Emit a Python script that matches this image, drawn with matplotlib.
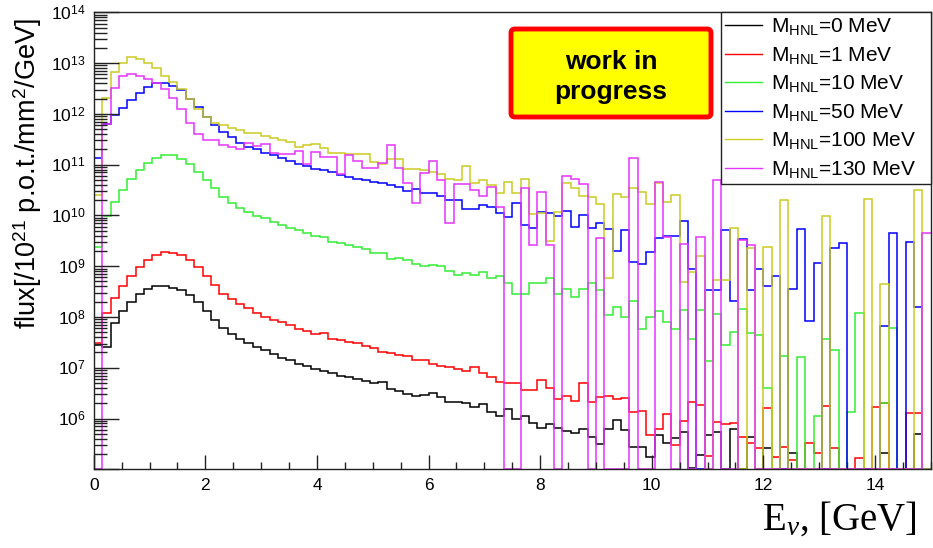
import numpy as np
import matplotlib.pyplot as plt
from matplotlib.lines import Line2D
from matplotlib.patches import FancyBboxPatch

plt.rcParams['font.family'] = ['Liberation Sans', 'DejaVu Sans']
plt.rcParams['mathtext.fontset'] = 'custom'
plt.rcParams['mathtext.rm'] = 'Liberation Sans'
plt.rcParams['mathtext.it'] = 'Liberation Serif:italic'
plt.rcParams['mathtext.bf'] = 'Liberation Sans:bold'

# 100 bins of 0.15 GeV between 0 and 15 GeV
e_lo, e_hi, n_bins = 0.0, 15.0, 100

# log10(flux) per bin; 0 means an empty bin
lg_m0 = [7.45, 7.41, 7.89, 8.12, 8.30, 8.45, 8.55, 8.61, 8.61, 8.58, 8.54, 8.44, 8.30, 8.12, 7.95, 7.79, 7.67, 7.56, 7.48, 7.40,
         7.35, 7.27, 7.20, 7.15, 7.08, 7.03, 6.98, 6.94, 6.89, 6.83, 6.81, 6.77, 6.74, 6.69, 6.72, 6.59, 6.54, 6.49, 6.44, 6.47,
         6.51, 6.43, 6.33, 6.33, 6.30, 6.22, 6.28, 6.13, 6.05, 6.18, 6.00, 6.05, 5.91, 5.82, 5.89, 5.82, 5.76, 5.72, 5.80, 5.64,
         5.49, 5.80, 5.98, 5.77, 5.44, 5.44, 5.24, 5.68, 5.51, 5.61, 5.74, 5.03, 5.28, 5.68, 5.74, 0, 5.80, 0, 5.64, 0,
         5.41, 0, 0, 5.32, 0, 0, 0, 0, 0, 0, 0, 0, 0, 0, 5.33, 0, 0, 0, 5.70, 0]
lg_m1 = [7.48, 8.08, 8.38, 8.61, 8.81, 8.99, 9.13, 9.23, 9.27, 9.26, 9.22, 9.12, 8.98, 8.80, 8.63, 8.46, 8.35, 8.25, 8.17, 8.07,
         8.00, 7.95, 7.90, 7.84, 7.77, 7.72, 7.67, 7.69, 7.57, 7.54, 7.51, 7.48, 7.42, 7.39, 7.31, 7.29, 7.26, 7.24, 7.16, 7.16,
         7.07, 7.04, 7.02, 6.98, 6.94, 7.02, 6.90, 6.81, 6.72, 6.69, 6.70, 6.57, 6.56, 6.76, 6.61, 6.39, 6.44, 6.34, 6.69, 6.33,
         6.43, 6.45, 6.38, 6.41, 6.12, 6.15, 5.68, 5.79, 6.08, 5.48, 5.95, 6.33, 6.26, 5.26, 5.93, 5.89, 5.92, 5.64, 5.51, 5.41,
         6.21, 5.25, 5.44, 5.19, 0, 5.51, 5.32, 6.24, 5.41, 0, 0, 5.23, 0, 6.22, 6.31, 0, 0, 6.11, 6.11, 0]
lg_m10 = [9.38, 9.99, 10.27, 10.51, 10.71, 10.89, 11.04, 11.14, 11.19, 11.18, 11.12, 11.02, 10.86, 10.70, 10.53, 10.37, 10.25, 10.15, 10.06, 9.99,
          9.94, 9.88, 9.81, 9.75, 9.72, 9.65, 9.60, 9.57, 9.48, 9.46, 9.42, 9.37, 9.33, 9.25, 9.25, 9.15, 9.17, 9.13, 9.04, 9.01,
          9.02, 9.01, 8.91, 8.82, 8.87, 8.82, 8.89, 8.77, 8.80, 8.67, 8.45, 8.45, 8.66, 8.66, 8.76, 8.46, 8.56, 8.40, 8.56, 8.67,
          8.54, 8.04, 8.20, 8.00, 8.32, 7.77, 8.00, 8.12, 7.90, 7.76, 8.13, 7.56, 8.13, 7.13, 8.06, 7.45, 7.70, 8.15, 7.69, 7.64,
          6.60, 0, 7.23, 0, 7.21, 0, 6.05, 7.56, 7.34, 0, 6.13, 8.07, 0, 0, 6.31, 7.79, 0, 0, 0, 0]
lg_m50 = [11.13, 11.80, 11.98, 12.11, 12.27, 12.42, 12.52, 12.60, 12.60, 12.54, 12.46, 12.29, 12.13, 11.94, 11.79, 11.65, 11.55, 11.43, 11.35, 11.31,
          11.23, 11.19, 11.14, 11.07, 11.01, 10.98, 10.91, 10.89, 10.86, 10.79, 10.76, 10.72, 10.69, 10.66, 10.63, 10.60, 10.56, 10.48, 10.52, 10.45,
          10.45, 10.38, 10.30, 10.30, 10.12, 10.12, 10.20, 10.17, 10.04, 9.97, 10.24, 9.81, 9.76, 10.07, 10.04, 9.99, 10.09, 9.78, 10.01, 9.76,
          9.85, 9.73, 9.30, 9.71, 9.09, 9.05, 9.27, 9.56, 9.59, 9.59, 9.89, 8.94, 0, 8.53, 8.53, 9.71, 8.32, 9.54, 8.54, 8.94,
          8.61, 8.81, 0, 8.56, 9.73, 7.92, 9.07, 0, 9.35, 9.45, 0, 0, 0, 0, 7.82, 9.66, 0, 9.47, 8.19, 0]
lg_m100 = [10.40, 12.32, 12.83, 13.01, 13.11, 13.08, 13.01, 12.90, 12.75, 12.62, 12.48, 12.29, 12.09, 11.94, 11.82, 11.78, 11.73, 11.69, 11.63, 11.63,
           11.56, 11.53, 11.48, 11.45, 11.34, 11.39, 11.40, 11.33, 11.23, 11.22, 11.21, 11.21, 11.21, 11.06, 11.02, 11.11, 11.11, 10.91, 10.91, 10.89,
           10.86, 10.81, 10.71, 10.70, 10.98, 10.63, 10.70, 10.60, 10.45, 10.66, 10.45, 10.71, 10.02, 10.04, 9.50, 10.07, 10.63, 10.53, 10.38, 10.36,
           10.23, 8.76, 10.43, 10.37, 10.54, 10.46, 10.22, 10.63, 10.27, 10.40, 8.69, 8.89, 9.20, 0, 8.72, 8.72, 9.75, 0, 9.35, 0,
           9.37, 0, 10.30, 0, 0, 0, 0, 9.99, 0, 0, 0, 0, 10.33, 0, 8.64, 0, 0, 0, 10.51, 0]
lg_m130 = [0, 11.80, 12.50, 12.75, 12.78, 12.75, 12.69, 12.60, 12.48, 12.32, 12.09, 11.82, 11.61, 11.49, 11.48, 11.39, 11.35, 11.30, 11.42, 11.37,
           11.40, 11.22, 11.20, 11.20, 11.27, 11.02, 11.25, 11.16, 11.16, 10.81, 11.18, 11.07, 10.94, 10.93, 11.04, 11.38, 10.93, 10.64, 10.24, 10.84,
           11.08, 10.70, 9.85, 10.61, 10.61, 10.51, 10.38, 10.55, 10.16, 0, 0, 10.53, 9.41, 10.47, 9.42, 0, 10.78, 10.71, 10.61, 0,
           9.55, 0, 0, 0, 11.14, 0, 0, 10.65, 9.57, 0, 9.43, 0, 9.58, 0, 10.70, 0, 0, 9.51, 9.41, 0,
           0, 0, 0, 0, 0, 0, 0, 0, 0, 0, 0, 0, 0, 0, 0, 0, 0, 0, 0, 9.66]

labels = [r'M$_{\mathrm{HNL}}$=0 MeV', r'M$_{\mathrm{HNL}}$=1 MeV', r'M$_{\mathrm{HNL}}$=10 MeV',
          r'M$_{\mathrm{HNL}}$=50 MeV', r'M$_{\mathrm{HNL}}$=100 MeV', r'M$_{\mathrm{HNL}}$=130 MeV']
colors = ['black', '#ff0000', '#33ee33', '#0000ff', '#cccc22', '#e633ff']
series = [lg_m0, lg_m1, lg_m10, lg_m50, lg_m100, lg_m130]

y_lo, y_hi = 1e5, 1e14

W, H = 933, 548
fig = plt.figure(figsize=(W / 100, H / 100), dpi=100)
ax = fig.add_axes([93.8 / W, 1 - 469.3 / H, (930.7 - 93.8) / W, (469.3 - 12.3) / H])

edges = np.linspace(e_lo, e_hi, n_bins + 1)
for lg, c in zip(series, colors):
    lg = np.array(lg)
    flux = np.where(lg > 0, 10.0 ** lg, 0.0)
    # empty bins drop down to the bottom of the frame, like ROOT does
    ax.stairs(np.maximum(flux, y_lo), edges, color=c, lw=1.1, baseline=None)

ax.set_yscale('log')
ax.set_xlim(e_lo, e_hi)
ax.set_ylim(y_lo, y_hi)

ax.set_xticks(np.arange(0, 15, 2))
ax.set_xticks(np.arange(0, 15.01, 0.5), minor=True)
ax.set_xticklabels([str(v) for v in range(0, 15, 2)])
decades = np.arange(5, 15)
ax.set_yticks(10.0 ** decades)
ax.set_yticklabels([''] + [r'$10^{%d}$' % d for d in decades[1:]])
ax.set_yticks([m * 10.0 ** d for d in decades[:-1] for m in range(2, 10)], minor=True)

ax.tick_params(axis='both', which='both', direction='in', top=False, right=False,
               labelsize=12.5, width=1, color='#222222')
ax.tick_params(axis='y', which='major', length=18, pad=6)
ax.tick_params(axis='y', which='minor', length=9)
ax.tick_params(axis='x', which='major', length=10, pad=6)
ax.tick_params(axis='x', which='minor', length=5)
for s in ax.spines.values():
    s.set_linewidth(1.0)
    s.set_color('#222222')

handles = [Line2D([], [], color=c, lw=1.0) for c in colors]
leg = ax.legend(handles, labels, loc='upper left', mode='expand',
                bbox_to_anchor=(720.7 / W, 1 - 182.7 / H, (931 - 720.7) / W, (182.7 - 12.3) / H),
                bbox_transform=fig.transFigure, fontsize=15, frameon=True, fancybox=False,
                framealpha=1, edgecolor='#222222', borderpad=0.2, borderaxespad=0,
                handlelength=1.8, handletextpad=0.4, labelspacing=0.36)
leg.get_frame().set_linewidth(1.0)

# "work in progress" stamp
box = FancyBboxPatch((511 / 100, (H - 117) / 100), 2.0, 0.88,
                     boxstyle='round,pad=0,rounding_size=0.04',
                     transform=fig.dpi_scale_trans, facecolor='#ffff00',
                     edgecolor='#ff0000', lw=3.5)
fig.add_artist(box)
fig.text(611 / W, 1 - 77 / H, 'work in\nprogress', ha='center', va='center',
         fontsize=19, fontweight='bold', linespacing=1.3)

fig.text(28 / W, 1 - 18 / H, r'flux[/10$^{21}$ p.o.t./mm$^{2}$/GeV]', rotation=90,
         ha='center', va='top', fontsize=19.5)
fig.text(917 / W, 1 - 530 / H, r'E$_{\nu}$, [GeV]', ha='right', va='baseline',
         fontsize=28, family=['Liberation Serif', 'DejaVu Serif'])

fig.savefig('out.png', dpi=100)
